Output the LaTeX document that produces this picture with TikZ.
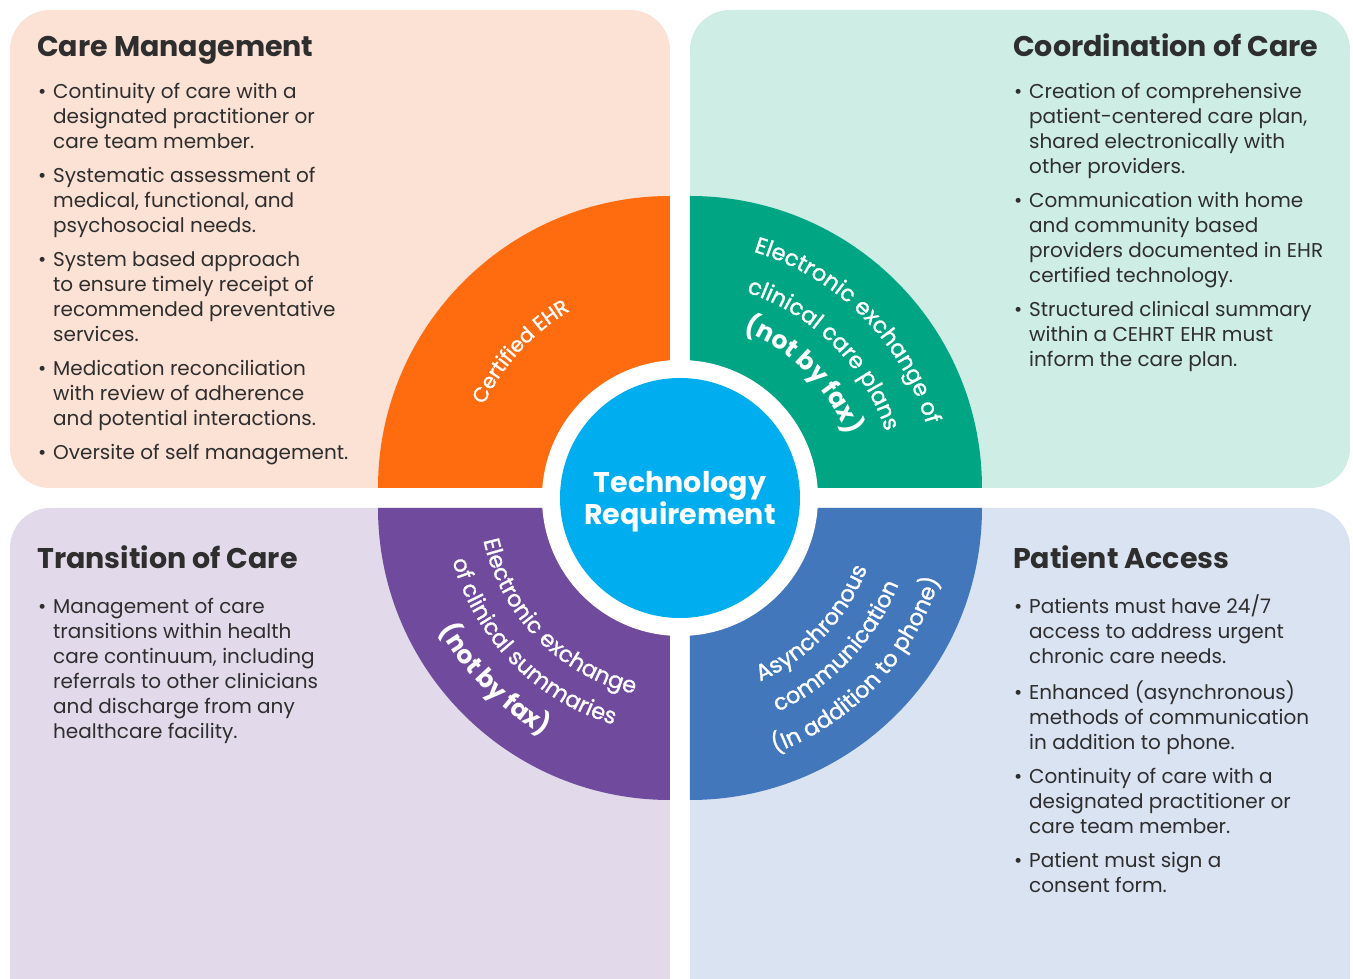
\documentclass[tikz,border=0pt]{standalone}
\usepackage{fontspec}
\setmainfont{Poppins}
\newfontfamily\wedgefam{Poppins}[FakeBold=1.2]
\usetikzlibrary{decorations.text}

\definecolor{ink}{HTML}{2E2E2E}
\definecolor{cmback}{HTML}{FCE1D5}
\definecolor{ccback}{HTML}{CEEDE5}
\definecolor{tcback}{HTML}{E2DAEB}
\definecolor{paback}{HTML}{DAE3F2}
\definecolor{cmwedge}{HTML}{FF6C10}
\definecolor{ccwedge}{HTML}{00A583}
\definecolor{tcwedge}{HTML}{6F4A9D}
\definecolor{pawedge}{HTML}{4277BC}
\definecolor{hub}{HTML}{00ADEE}

\newcommand{\bodyfont}{\fontsize{20}{25}\selectfont}
\newcommand{\headfont}{\fontsize{28.5}{32}\selectfont\bfseries}
\newcommand{\ehrfont}{\wedgefam\fontsize{20.5}{24}\selectfont}
\newcommand{\arcfont}{\wedgefam\fontsize{22.5}{24}\selectfont}
\newcommand{\arcbold}{\fontsize{25}{26}\selectfont\bfseries}
\newcommand{\gap}{\\[9pt]}

\tikzset{
  panel/.style={rounded corners=40pt},
  head/.style={anchor=base west, inner sep=0pt, font=\headfont, text=ink},
  items/.style={anchor=base west, inner sep=0pt, font=\bodyfont, text=ink},
  arctext/.style={decorate, decoration={text along path, text align=center,
      text color=white, text={#1}}},
}

\begin{document}
\begin{tikzpicture}[x=1pt, y=1pt]
\useasboundingbox (-680,-481) rectangle (673,498);
\clip (-680,-481) rectangle (673,498);
\fill[white] (-680,-481) rectangle (673,498);

% panels
\fill[cmback, panel] (-670,10) rectangle (-10,488);
\fill[ccback, panel] (10,10) rectangle (670,488);
\fill[tcback, panel] (-670,-10) rectangle (-10,-540);
\fill[paback, panel] (10,-10) rectangle (670,-540);

% quarter wedges round the hub
\fill[cmwedge] (-10,10) -- ++(-292,0) arc[start angle=180, end angle=90, radius=292] -- cycle;
\fill[ccwedge] (10,10) -- ++(0,292) arc[start angle=90, end angle=0, radius=292] -- cycle;
\fill[tcwedge] (-10,-10) -- ++(-292,0) arc[start angle=180, end angle=270, radius=292] -- cycle;
\fill[pawedge] (10,-10) -- ++(292,0) arc[start angle=0, end angle=-90, radius=292] -- cycle;

\fill[white] (0,0) circle[radius=138];
\fill[hub] (0,0) circle[radius=120];
\node[align=center, inner sep=0pt, text=white, font=\headfont] (hub) at (0,-4)
  {Technology\\Requirement};

% wedge labels
\path[arctext={|\ehrfont|Certified EHR}]
  (179:217) arc[start angle=179, end angle=96, radius=217];
\path[arctext={|\arcfont|Electronic exchange of}]
  (88:257) arc[start angle=88, end angle=2, radius=257];
\path[arctext={|\arcfont|clinical care plans}]
  (88:216) arc[start angle=88, end angle=2, radius=216];
\path[arctext={|\arcbold|(not by fax)}]
  (88:178) arc[start angle=88, end angle=2, radius=178];
\path[arctext={|\arcfont|Electronic exchange}]
  (181:201) arc[start angle=181, end angle=268, radius=201];
\path[arctext={|\arcfont|of clinical summaries}]
  (181:236) arc[start angle=181, end angle=268, radius=236];
\path[arctext={|\arcbold|(not by fax)}]
  (181:274) arc[start angle=181, end angle=268, radius=274];
\path[arctext={|\arcfont|Asynchronous}]
  (-87:200) arc[start angle=-87, end angle=0, radius=200];
\path[arctext={|\arcfont|communication}]
  (-87:235) arc[start angle=-87, end angle=0, radius=235];
\path[arctext={|\arcfont|(In addition to phone)}]
  (-87:272) arc[start angle=-87, end angle=0, radius=272];

% headings
\node[head] (cmhead) at (-643,441) {Care Management};
\node[head] (cchead) at (333,441) {Coordination of Care};
\node[head] (tchead) at (-643,-71) {Transition of Care};
\node[head] (pahead) at (333,-71) {Patient Access};

% bullet lists
\node[items] (cmlist) at (-642,399) {\begin{tabular}[t]{@{}p{15pt}@{}l@{}}
  \textbullet & Continuity of care with a\\
  & designated practitioner or\\
  & care team member.\gap
  \textbullet & Systematic assessment of\\
  & medical, functional, and\\
  & psychosocial needs.\gap
  \textbullet & System based approach\\
  & to ensure timely receipt of\\
  & recommended preventative\\
  & services.\gap
  \textbullet & Medication reconciliation\\
  & with review of adherence\\
  & and potential interactions.\gap
  \textbullet & Oversite of self management.
\end{tabular}};
\node[items] (cclist) at (334,399) {\begin{tabular}[t]{@{}p{15pt}@{}l@{}}
  \textbullet & Creation of comprehensive\\
  & patient-centered care plan,\\
  & shared electronically with\\
  & other providers.\gap
  \textbullet & Communication with home\\
  & and community based\\
  & providers documented in EHR\\
  & certified technology.\gap
  \textbullet & Structured clinical summary\\
  & within a CEHRT EHR must\\
  & inform the care plan.
\end{tabular}};
\node[items] (tclist) at (-642,-116) {\begin{tabular}[t]{@{}p{15pt}@{}l@{}}
  \textbullet & Management of care\\
  & transitions within health\\
  & care continuum, including\\
  & referrals to other clinicians\\
  & and discharge from any\\
  & healthcare facility.
\end{tabular}};
\node[items] (palist) at (334,-116) {\begin{tabular}[t]{@{}p{15pt}@{}l@{}}
  \textbullet & Patients must have 24/7\\
  & access to address urgent\\
  & chronic care needs.\gap
  \textbullet & Enhanced (asynchronous)\\
  & methods of communication\\
  & in addition to phone.\gap
  \textbullet & Continuity of care with a\\
  & designated practitioner or\\
  & care team member.\gap
  \textbullet & Patient must sign a\\
  & consent form.
\end{tabular}};
\end{tikzpicture}
\end{document}
